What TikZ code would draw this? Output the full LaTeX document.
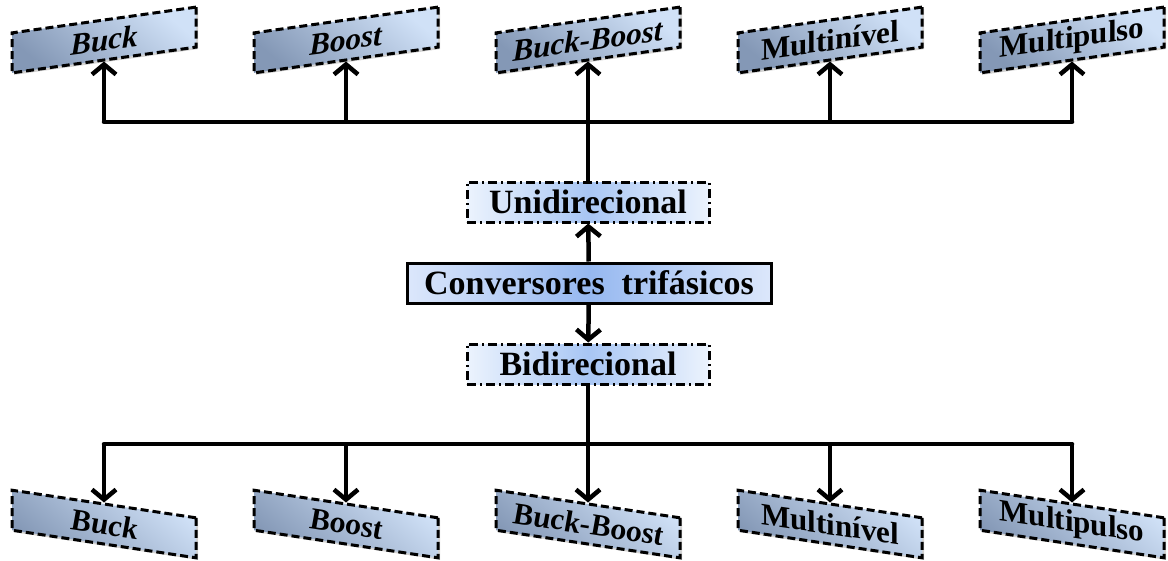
\documentclass[tikz,border=0pt]{standalone}
\usepackage{fontspec}
\setmainfont{Liberation Serif}
\usepackage{tikz}
\usetikzlibrary{shapes,arrows.meta,shadows}
\definecolor{tipoesq}{RGB}{132,152,182}
\definecolor{tipodir}{RGB}{208,225,247}
\definecolor{sentborda}{RGB}{236,243,253}
\definecolor{sentmeio}{RGB}{168,198,244}
\definecolor{raizborda}{RGB}{220,231,251}
\definecolor{raizmeio}{RGB}{150,184,240}
\tikzstyle{tipo}=[draw, line width=3pt, dash pattern=on 8pt off 4pt, minimum width=184pt, minimum height=40pt, inner sep=0pt, top color=tipodir, bottom color=tipoesq, shading angle=-40, font=\fontsize{31}{34}\selectfont\bfseries, drop shadow={shadow xshift=2pt, shadow yshift=-2pt, opacity=.35}]
\tikzstyle{sobe}=[tipo, yslant=0.14]
\tikzstyle{desce}=[tipo, yslant=-0.15]
\tikzstyle{sentido}=[draw, line width=3pt, dash pattern=on 9pt off 4pt on 2pt off 4pt, minimum width=242pt, minimum height=40pt, inner sep=0pt, left color=sentborda, right color=sentborda, middle color=sentmeio, font=\fontsize{34}{38}\selectfont\bfseries]
\tikzstyle{raiz}=[draw, line width=3pt, minimum width=364pt, minimum height=40pt, inner sep=0pt, left color=raizborda, right color=raizborda, middle color=raizmeio, font=\fontsize{34}{38}\selectfont\bfseries]
\tikzstyle{seta}=[line width=4.5pt, -{Straight Barb[length=10pt,width=24pt]}]
\tikzstyle{barra}=[line width=4.5pt]

\begin{document}
\begin{tikzpicture}[x=1pt,y=-1pt]
        \useasboundingbox (0,0) rectangle (1168,560);
        \node[raiz] (conv) at (589,283) {Conversores\ \ trifásicos};
        \node[sentido] (uni) at (588,202) {Unidirecional};
        \node[sentido] (bi) at (588,364) {Bidirecional};
        % ramo de cima
        \node[sobe] (buckA) at (104,40) {\textit{Buck}};
        \node[sobe] (boostA) at (346,40) {\textit{Boost}};
        \node[sobe] (bbA) at (588,40) {\textit{Buck-Boost}};
        \node[sobe] (mnA) at (830,40) {Multinível};
        \node[sobe] (mpA) at (1072,40) {Multipulso};
        % ramo de baixo
        \node[desce] (buckB) at (104,524) {\textit{Buck}};
        \node[desce] (boostB) at (346,524) {\textit{Boost}};
        \node[desce] (bbB) at (588,524) {\textit{Buck-Boost}};
        \node[desce] (mnB) at (830,524) {Multinível};
        \node[desce] (mpB) at (1072,524) {Multipulso};
        \coordinate (barraA) at (588,122);
        \coordinate (barraB) at (588,444);
        \draw[seta] (conv) -- (uni);
        \draw[seta] (conv) -- (bi);
        \draw[barra] (uni) -- (barraA);
        \draw[barra] (bi) -- (barraB);
        \draw[barra, line cap=round] (buckA.south |- barraA) -- (mpA.south |- barraA);
        \draw[barra, line cap=round] (buckB.north |- barraB) -- (mpB.north |- barraB);
        \foreach \n in {buckA,boostA,bbA,mnA,mpA}
            \draw[seta] (\n.south |- barraA) -- (\n.south);
        \foreach \n in {buckB,boostB,bbB,mnB,mpB}
            \draw[seta] (\n.north |- barraB) -- (\n.north);
\end{tikzpicture}
\end{document}
